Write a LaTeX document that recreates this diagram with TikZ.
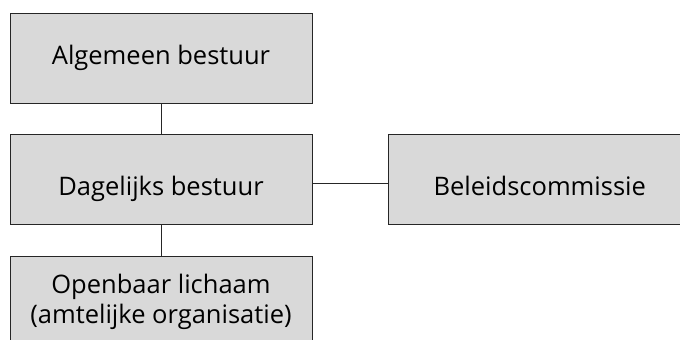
\documentclass[tikz,border=0pt]{standalone}
\usepackage{fontspec}
\setmainfont{Open Sans}
\usetikzlibrary{positioning}

\begin{document}
\begin{tikzpicture}[x=1pt,y=-1pt,
        orgbox/.style={draw=black!85, line width=0.8pt, fill=black!15,
            minimum width=302pt, minimum height=90pt, align=center,
            inner sep=0pt, font=\fontsize{25.5}{30}\selectfont},
        lowtext/.style={text height=38pt, text depth=6pt},
        link/.style={draw=black!85, line width=0.8pt}]
        \clip (0,0) rectangle (680,340);
        \useasboundingbox (0,0) rectangle (680,340);

        % Organen
        \node[orgbox] (algemeen) at (161,58) {Algemeen bestuur};
        \node[orgbox, lowtext, below=31pt of algemeen] (dagelijks) {Dagelijks bestuur};
        \node[orgbox, below=31pt of dagelijks] (openbaar) {Openbaar lichaam\\(amtelijke organisatie)};
        \node[orgbox, lowtext, right=76pt of dagelijks] (beleid) {Beleidscommissie};

        % Verbindingen
        \draw[link] (algemeen) -- (dagelijks);
        \draw[link] (dagelijks) -- (openbaar);
        \draw[link] ([yshift=-4pt]dagelijks.east) -- ([yshift=-4pt]beleid.west);
    \end{tikzpicture}
\end{document}
